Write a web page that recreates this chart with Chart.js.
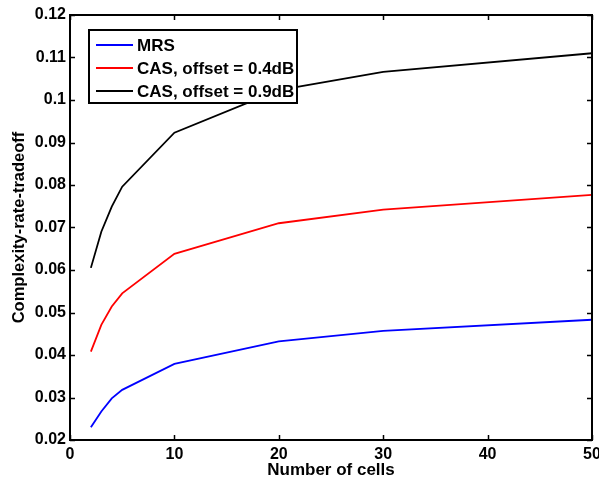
<!DOCTYPE html>
<html>
<head>
<meta charset="utf-8">
<script src="https://cdn.jsdelivr.net/npm/chart.js@4.4.1/dist/chart.umd.min.js"></script>
<style>
  body { margin: 0; background: #fff; }
  canvas { display: block; }
</style>
</head>
<body>
<canvas id="tradeoffChart" width="599" height="483"></canvas>
<script>
// complexity-rate tradeoff vs number of cells

const cells = [2, 3, 4, 5, 10, 20, 30, 50];
const mrs = [0.0230, 0.0267, 0.0298, 0.0318, 0.0379, 0.0432, 0.0457, 0.0483];
const cas04 = [0.0408, 0.0471, 0.0514, 0.0545, 0.0638, 0.0710, 0.0742, 0.0777];
const cas09 = [0.0605, 0.0690, 0.0749, 0.0796, 0.0923, 0.1023, 0.1066, 0.1110];

const seriesNames = ["MRS", "CAS, offset = 0.4dB", "CAS, offset = 0.9dB"];
const xTicks = [0, 10, 20, 30, 40, 50];
const yTicks = [0.02, 0.03, 0.04, 0.05, 0.06, 0.07, 0.08, 0.09, 0.1, 0.11, 0.12];

const FONT = "'Liberation Sans', Arial, sans-serif";

const toPoints = ys => cells.map((c, i) => ({ x: c, y: ys[i] }));

// MATLAB style box with inward ticks + legend in the upper left
const matlabBox = {
  id: "matlabBox",
  afterDatasetsDraw(chart) {
    const { ctx, chartArea: a, scales: { x, y } } = chart;
    ctx.save();
    ctx.strokeStyle = "#000";
    ctx.lineWidth = 2;
    ctx.strokeRect(a.left, a.top, a.right - a.left, a.bottom - a.top);
    ctx.lineWidth = 1.5;
    ctx.beginPath();
    xTicks.forEach(v => {
      const px = Math.round(x.getPixelForValue(v)) + 0.5;
      ctx.moveTo(px, a.bottom); ctx.lineTo(px, a.bottom - 5);
      ctx.moveTo(px, a.top); ctx.lineTo(px, a.top + 5);
    });
    yTicks.forEach(v => {
      const py = Math.round(y.getPixelForValue(v)) + 0.5;
      ctx.moveTo(a.left, py); ctx.lineTo(a.left + 5, py);
      ctx.moveTo(a.right, py); ctx.lineTo(a.right - 5, py);
    });
    ctx.stroke();
    ctx.restore();
  },
  afterDraw(chart) {
    const { ctx } = chart;
    const bx = 89, by = 30, bw = 208, bh = 73;
    ctx.save();
    ctx.fillStyle = "#fff";
    ctx.fillRect(bx, by, bw, bh);
    ctx.strokeStyle = "#000";
    ctx.lineWidth = 2;
    ctx.strokeRect(bx, by, bw, bh);
    ctx.font = "bold 17px " + FONT;
    ctx.textBaseline = "middle";
    chart.data.datasets.forEach((ds, i) => {
      const ly = 45 + i * 23;
      ctx.strokeStyle = ds.borderColor;
      ctx.lineWidth = 1.8;
      ctx.beginPath();
      ctx.moveTo(96, ly); ctx.lineTo(133, ly);
      ctx.stroke();
      ctx.fillStyle = "#000";
      ctx.fillText(ds.label, 137, ly + 1);
    });
    ctx.restore();
  }
};

new Chart(document.getElementById("tradeoffChart"), {
  type: "line",
  data: {
    datasets: [
      { label: seriesNames[0], data: toPoints(mrs), borderColor: "#0000ff" },
      { label: seriesNames[1], data: toPoints(cas04), borderColor: "#ff0000" },
      { label: seriesNames[2], data: toPoints(cas09), borderColor: "#000000" }
    ]
  },
  options: {
    responsive: false,
    animation: false,
    layout: { padding: { top: 15, right: 7, left: 0, bottom: 0 } },
    elements: {
      line: { borderWidth: 1.8, tension: 0, fill: false },
      point: { radius: 0 }
    },
    plugins: {
      legend: { display: false },
      tooltip: { enabled: false },
      title: { display: false }
    },
    scales: {
      x: {
        type: "linear",
        min: 0,
        max: 50,
        grid: { display: false, drawTicks: false },
        border: { display: false },
        ticks: {
          stepSize: 10,
          padding: 5,
          maxRotation: 0,
          color: "#000",
          font: { family: FONT, size: 16, weight: "bold" }
        },
        title: {
          display: true,
          text: "Number of cells",
          color: "#000",
          padding: { top: 0, bottom: 2 },
          font: { family: FONT, size: 17, weight: "bold" }
        },
        afterFit(scale) {
          scale.height = 43;
          scale.paddingLeft = 0;
          scale.paddingRight = 0;
        }
      },
      y: {
        min: 0.02,
        max: 0.12,
        grid: { display: false, drawTicks: false },
        border: { display: false },
        ticks: {
          stepSize: 0.01,
          padding: 4,
          color: "#000",
          font: { family: FONT, size: 16, weight: "bold" },
          callback: v => String(+v.toFixed(2))
        },
        title: {
          display: true,
          text: "Complexity-rate-tradeoff",
          color: "#000",
          padding: { top: 10, bottom: 0 },
          font: { family: FONT, size: 16.5, weight: "bold" }
        },
        afterFit(scale) {
          scale.width = 70;
          scale.paddingTop = 0;
          scale.paddingBottom = 0;
        }
      }
    }
  },
  plugins: [matlabBox]
});
</script>
</body>
</html>
